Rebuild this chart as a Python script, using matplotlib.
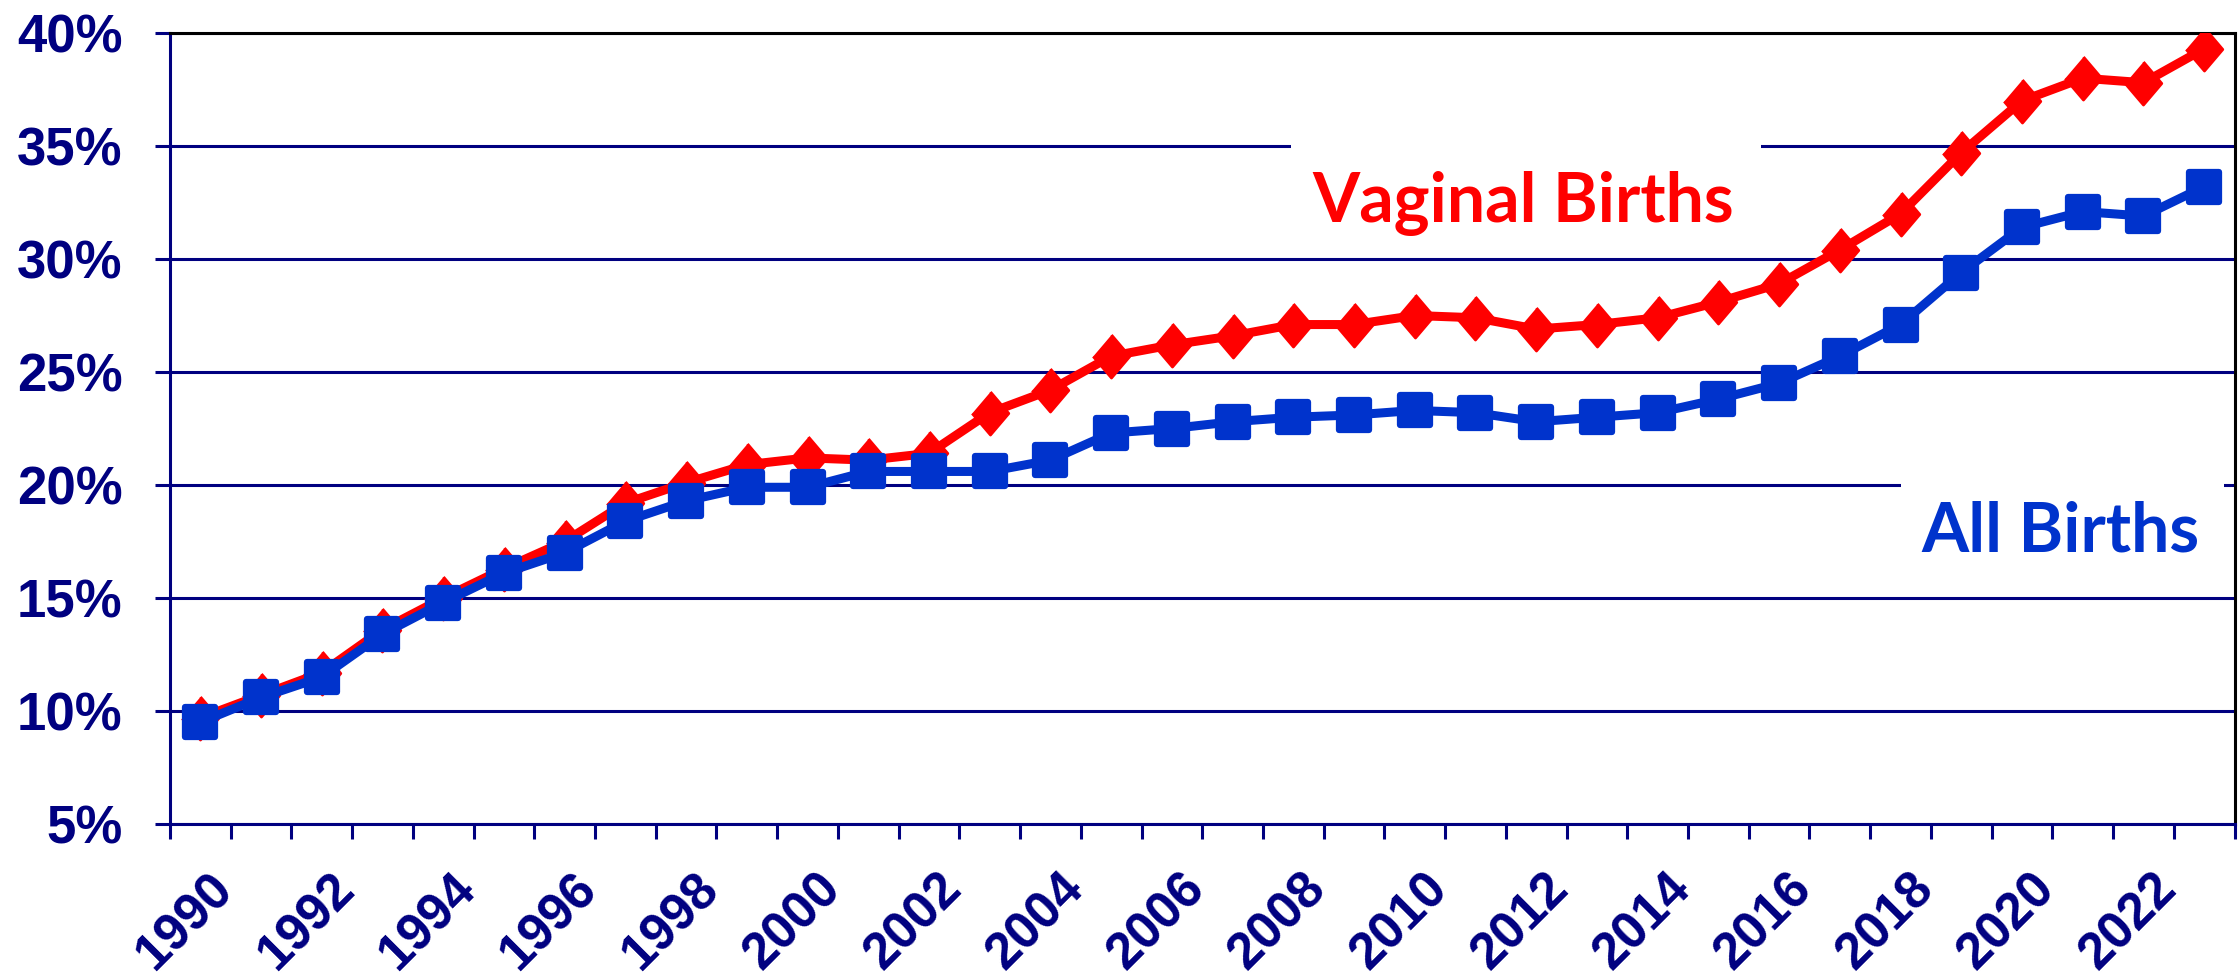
import matplotlib.pyplot as plt
import matplotlib.transforms as mtransforms
from matplotlib.markers import MarkerStyle
from matplotlib.patches import Rectangle
import numpy as np

# years shown on the category axis
years = list(range(1990, 2024))

# cesarean rate (%) among vaginal births vs all births
vaginal = [9.7, 10.7, 11.7, 13.6, 15.0, 16.3, 17.5, 19.2, 20.1, 20.9,
           21.2, 21.1, 21.4, 23.2, 24.2, 25.7, 26.2, 26.6, 27.1, 27.1,
           27.5, 27.4, 26.9, 27.1, 27.4, 28.1, 28.9, 30.4, 32.0, 34.7,
           37.0, 38.0, 37.8, 39.3]
all_births = [9.5, 10.6, 11.5, 13.4, 14.8, 16.1, 17.0, 18.4, 19.3, 19.9,
              19.9, 20.6, 20.6, 20.6, 21.1, 22.3, 22.5, 22.8, 23.0, 23.1,
              23.3, 23.2, 22.8, 23.0, 23.2, 23.8, 24.5, 25.7, 27.1, 29.4,
              31.4, 32.1, 31.9, 33.2]

y_ticks = [5, 10, 15, 20, 25, 30, 35, 40]

navy = "#000080"
red = "#FF0000"
blue = "#0033CC"
tick_font = ["Liberation Sans", "DejaVu Sans"]
label_font = ["Lato", "DejaVu Sans"]

fig = plt.figure(figsize=(22.39, 9.76), dpi=100)
ax = fig.add_axes([0.0759, 0.1557, 0.9221, 0.8105])

x = np.arange(len(years))

diamond = MarkerStyle([(0, 1), (0.85, 0), (0, -1), (-0.85, 0)])
square = MarkerStyle("s", joinstyle="round")
ax.plot(x, vaginal, color=red, lw=6.5, marker=diamond, ms=31, mec=red,
        mfc=red, mew=2, zorder=3, solid_joinstyle="round")
ax.plot(x, all_births, color=blue, lw=6.5, marker=square, ms=21, mec=blue,
        mfc=blue, mew=4.5, zorder=4, solid_joinstyle="round")

ax.set_xlim(-0.5, len(years) - 0.5)
ax.set_ylim(5, 40)

# gridlines
ax.set_yticks(y_ticks)
ax.set_yticklabels([f"{v}%" for v in y_ticks], fontsize=38, fontweight="bold",
                   color=navy, family=tick_font)
ax.grid(axis="y", color=navy, lw=2.2)
ax.set_axisbelow(True)

# ticks between categories, labels every second year
ax.set_xticks(np.arange(len(years) + 1) - 0.5)
ax.set_xticklabels([])
ax.set_xticks(x[::2], minor=True)
ax.set_xticklabels([str(y) for y in years[::2]], minor=True, rotation=45,
                   ha="right", va="top", rotation_mode="anchor", fontsize=37,
                   fontweight="bold", color=navy, family=tick_font)
ax.tick_params(axis="x", which="major", length=11, width=2.2, color=navy,
               direction="out")
ax.tick_params(axis="x", which="minor", length=0, pad=29)
ax.tick_params(axis="y", length=11, width=2.2, color=navy, pad=23)
offset = mtransforms.ScaledTranslation(0.08, 0, fig.dpi_scale_trans)
for lbl in ax.xaxis.get_minorticklabels():
    lbl.set_transform(lbl.get_transform() + offset)

for side in ["left", "bottom"]:
    ax.spines[side].set_color(navy)
    ax.spines[side].set_linewidth(2.2)
for side in ["top", "right"]:
    ax.spines[side].set_color("black")
    ax.spines[side].set_linewidth(2.2)

# series labels on white boxes that cut the gridlines
ax.add_patch(Rectangle((17.97, 30.6), 7.73, 6.0, facecolor="white",
                       edgecolor="none", zorder=1))
ax.text(21.78, 31.64, "Vaginal Births", color=red, fontsize=49,
        fontweight="bold", family=label_font,
        ha="center", va="baseline", zorder=5)
ax.add_patch(Rectangle((28.0, 16.8), 5.33, 4.7, facecolor="white",
                       edgecolor="none", zorder=1))
ax.text(30.63, 17.08, "All Births", color=blue, fontsize=49,
        fontweight="bold", family=label_font,
        ha="center", va="baseline", zorder=5)

fig.savefig("out.png", dpi=100)
